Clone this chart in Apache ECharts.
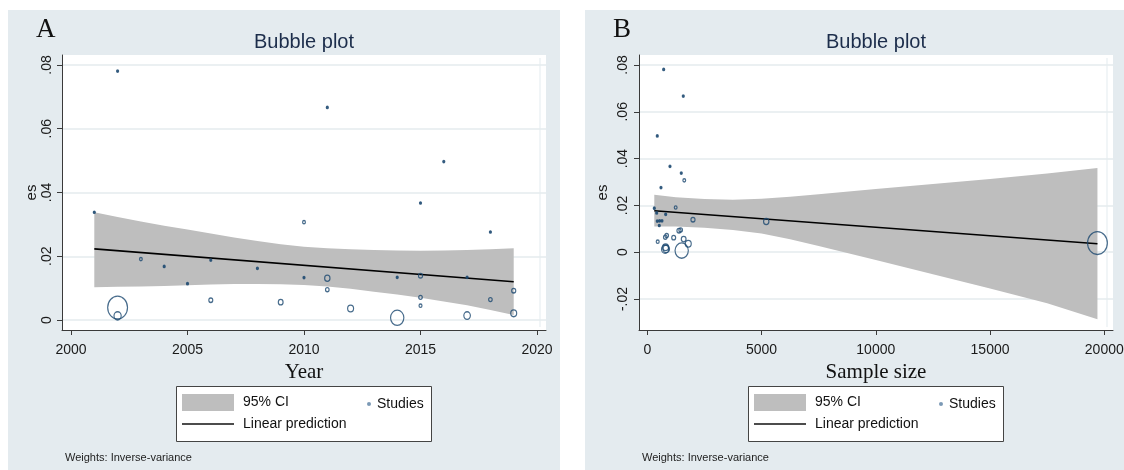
<!DOCTYPE html>
<html>
<head>
<meta charset="utf-8">
<script src="https://cdn.jsdelivr.net/npm/echarts@6/dist/echarts.min.js"></script>
<style>
  html, body { margin: 0; padding: 0; background: #ffffff; }
  #chart { width: 1124px; height: 470px; }
</style>
</head>
<body>
<div id="chart"></div>
<script>
// ---- Study-level data: publication year, sample size, effect size (es), inverse-variance weight ----
const studyYear = [2001, 2002, 2002, 2002, 2003, 2004, 2005, 2006, 2006, 2008,
                   2009, 2010, 2010, 2011, 2011, 2011, 2012, 2014, 2014, 2015,
                   2015, 2015, 2015, 2016, 2017, 2017, 2018, 2018, 2019, 2019];
const studyN    = [1487, 717, 19700, 780, 1242, 411, 525, 306, 1155, 805,
                   1592, 1618, 437, 1575, 5205, 1461, 1793, 539, 1505, 993,
                   1999, 849, 455, 437, 643, 830, 599, 787, 1387, 800];
const studyES   = [0.0338, 0.0781, 0.0039, 0.0013, 0.0191, 0.0168, 0.0114, 0.0188, 0.0062, 0.0162,
                   0.0056, 0.0307, 0.0133, 0.0667, 0.0131, 0.0095, 0.0036, 0.0134, 0.0007, 0.0367,
                   0.0139, 0.0071, 0.0045, 0.0497, 0.0134, 0.0014, 0.0276, 0.0064, 0.0092, 0.0021];
const studyWeight = [2.9, 2.2, 127, 20, 4.4, 2.2, 2.2, 2.4, 7.3, 2.4,
                     10, 4.4, 2.2, 2.2, 12, 6.3, 14.4, 2.2, 60, 2.2,
                     7.8, 6.3, 4.8, 2.2, 2.2, 17, 2.2, 6.3, 7.8, 14.4];

// ---- Meta-regression on year: linear prediction and 95% CI ----
const yearFitX   = [2001, 2019];
const yearFitY   = [0.0223, 0.0120];
const yearBandX  = [2001, 2002, 2003, 2004, 2005, 2006, 2007, 2008, 2009, 2010,
                    2011, 2012, 2013, 2014, 2015, 2016, 2017, 2018, 2019];
const yearBandHi = [0.0338, 0.0323, 0.0309, 0.0296, 0.0284, 0.0271, 0.0259, 0.0248, 0.0238, 0.0230,
                    0.0225, 0.0222, 0.0220, 0.0218, 0.0217, 0.0218, 0.0220, 0.0222, 0.0225];
const yearBandLo = [0.0103, 0.0104, 0.0105, 0.0107, 0.0109, 0.0111, 0.0113, 0.0113, 0.0112, 0.0110,
                    0.0105, 0.0098, 0.0089, 0.0080, 0.0070, 0.0058, 0.0046, 0.0031, 0.0016];

// ---- Meta-regression on sample size: linear prediction and 95% CI ----
const sizeFitX   = [306, 19700];
const sizeFitY   = [0.0177, 0.0036];
const sizeBandX  = [306, 1250, 2500, 3750, 5000, 6250, 7500, 10000, 12500, 15000, 17500, 19700];
const sizeBandHi = [0.0246, 0.0235, 0.0227, 0.0224, 0.0228, 0.0237, 0.0248, 0.0270, 0.0291, 0.0313, 0.0336, 0.0360];
const sizeBandLo = [0.0110, 0.0110, 0.0105, 0.0095, 0.0080, 0.0055, 0.0026, -0.0033, -0.0094, -0.0155, -0.0218, -0.0287];

// ---- Tick labels ----
const yearTicks = [2000, 2005, 2010, 2015, 2020];
const sizeTicks = [0, 5000, 10000, 15000, 20000];
const esTicksA  = [0, 0.02, 0.04, 0.06, 0.08];
const esTicksB  = [-0.02, 0, 0.02, 0.04, 0.06, 0.08];

// ---- Styling ----
const SANS = "'Liberation Sans', Arial, sans-serif";
const SERIF = "'Liberation Serif', 'Times New Roman', serif";
const PANEL_BG = '#e4ebef';
const NAVY = '#1a476f';
const BAND = '#bebebe';
const AXIS = '#3a3a3a';
const GRIDLINE = '#e4ebee';
const CIRCLE_PATH = 'path://M50,0A50,50,0,1,1,50,100A50,50,0,1,1,50,0Z';

// panel frames and plot regions (pixels)
const panels = [
  { bg: [8, 10, 552, 460], plot: { left: 62, top: 55, width: 484, height: 275 }, letter: 'A', xName: 'Year',
    xMin: 1999.614, xMax: 2020.386, yMin: -0.003137, yMax: 0.083137,
    xTicks: yearTicks, yTicks: esTicksA, esGap: 21, labelMargin: 8 },
  { bg: [585, 10, 539, 460], plot: { left: 639, top: 55, width: 474, height: 275 }, letter: 'B', xName: 'Sample size',
    xMin: -363, xMax: 20381, yMin: -0.033248, yMax: 0.084274,
    xTicks: sizeTicks, yTicks: esTicksB, esGap: 29, labelMargin: 9 }
];

function esLabel(v) {
  if (Math.abs(v) < 1e-12) return '0';
  const s = String(Math.round(Math.abs(v) * 100) / 100).replace(/^0/, '');
  return (v < 0 ? '-' : '') + s;
}

function bubbleSize(w) {
  // marker outline diameter grows with the square root of the weight
  const d = Math.max(2.2, 2 * Math.sqrt(w) - 1.2);
  return [d * 0.93, d * 1.07];
}

function bubbleFill(params) {
  // the lightest-weight studies render as solid dots
  return params.value[2] < 3 ? NAVY : 'rgba(0,0,0,0)';
}

function bandSeries(name, idx, xs, hi, lo) {
  return {
    type: 'custom', name: name, xAxisIndex: idx, yAxisIndex: idx, silent: true, z: 1,
    data: [0],
    renderItem: function (params, api) {
      const pts = [];
      for (let i = 0; i < xs.length; i++) pts.push(api.coord([xs[i], hi[i]]));
      for (let i = xs.length - 1; i >= 0; i--) pts.push(api.coord([xs[i], lo[i]]));
      return { type: 'polygon', shape: { points: pts }, style: { fill: BAND } };
    }
  };
}

const grids = [], xAxes = [], yAxes = [], series = [], legends = [], graphics = [];

panels.forEach(function (p, i) {
  grids.push({ left: p.plot.left, top: p.plot.top, width: p.plot.width, height: p.plot.height,
               containLabel: false, outerBoundsMode: 'none' });

  xAxes.push({
    type: 'value', gridIndex: i, min: p.xMin, max: p.xMax,
    name: p.xName, nameLocation: 'middle', nameGap: 31,
    nameTextStyle: { fontFamily: SERIF, fontSize: 21, color: '#111' },
    axisLine: { onZero: false, lineStyle: { color: AXIS, width: 1 } },
    axisTick: { show: true, length: 5, customValues: p.xTicks, lineStyle: { color: AXIS } },
    axisLabel: { customValues: p.xTicks, margin: 13, fontFamily: SANS, fontSize: 14, color: '#1a1a1a',
                 formatter: function (v) { return String(v); } },
    splitLine: { show: false }
  });

  yAxes.push({
    type: 'value', gridIndex: i, min: p.yMin, max: p.yMax,
    name: 'es', nameLocation: 'middle', nameGap: p.esGap, nameRotate: 90,
    nameTextStyle: { fontFamily: SANS, fontSize: 15, color: '#1a1a1a' },
    axisLine: { show: true, onZero: false, lineStyle: { color: AXIS, width: 1 } },
    axisTick: { show: true, length: 5, customValues: p.yTicks, lineStyle: { color: AXIS } },
    axisLabel: { customValues: p.yTicks, rotate: 90, margin: p.labelMargin, fontFamily: SANS, fontSize: 14,
                 color: '#1a1a1a', formatter: esLabel },
    splitLine: { show: true, lineStyle: { color: GRIDLINE, width: 1.6 } }
  });

  // panel background, plot region, panel letter, title, footnote, legend frame
  graphics.push({ type: 'rect', z: -10, silent: true,
                  shape: { x: p.bg[0], y: p.bg[1], width: p.bg[2], height: p.bg[3] }, style: { fill: PANEL_BG } });
  graphics.push({ type: 'rect', z: -9, silent: true,
                  shape: { x: p.plot.left, y: p.plot.top, width: p.plot.width, height: p.plot.height },
                  style: { fill: '#ffffff' } });
  graphics.push({ type: 'line', z: -8, silent: true,
                  shape: { x1: p.plot.left + p.plot.width - 6, y1: p.plot.top + 3,
                           x2: p.plot.left + p.plot.width - 6, y2: p.plot.top + p.plot.height - 3 },
                  style: { stroke: '#edf2f4', lineWidth: 1.5 } });
  const cx = p.plot.left + p.plot.width / 2;
  graphics.push({ type: 'text', z: 5, silent: true, x: p.bg[0] + 28, y: 30,
                  style: { text: p.letter, font: '27px ' + SERIF, fill: '#111', textAlign: 'left', textVerticalAlign: 'middle' } });
  graphics.push({ type: 'text', z: 5, silent: true, x: cx, y: 42,
                  style: { text: 'Bubble plot', font: '20px ' + SANS, fill: '#1c2d4b', textAlign: 'center', textVerticalAlign: 'middle' } });
  graphics.push({ type: 'text', z: 5, silent: true, x: p.bg[0] + 57, y: 458,
                  style: { text: 'Weights: Inverse-variance', font: '11px ' + SANS, fill: '#222', textAlign: 'left', textVerticalAlign: 'middle' } });
  graphics.push({ type: 'rect', z: 2, silent: true,
                  shape: { x: cx - 127.5, y: 386.5, width: 255, height: 55 },
                  style: { fill: '#ffffff', stroke: '#444', lineWidth: 1 } });

  // legend rows
  legends.push({ left: cx - 122, top: 394, padding: 0, itemWidth: 52, itemHeight: 17, selectedMode: false,
                 data: [{ name: '95% CI', icon: 'rect', itemStyle: { color: BAND } }],
                 textStyle: { fontFamily: SANS, fontSize: 14, color: '#111', padding: [3, 0, 0, 4] } });
  legends.push({ left: cx + 63, top: 397, padding: 0, itemWidth: 4, itemHeight: 4, selectedMode: false,
                 data: [{ name: 'Studies', icon: 'circle', itemStyle: { color: '#5a7fa3', borderWidth: 0 } }],
                 textStyle: { fontFamily: SANS, fontSize: 14, color: '#111', padding: [2, 0, 0, 1] } });
  legends.push({ left: cx - 122, top: 417, padding: 0, itemWidth: 52, itemHeight: 17, selectedMode: false,
                 data: [{ name: 'Linear prediction', icon: 'path://M0,0L52,0L52,1.5L0,1.5Z', itemStyle: { color: '#111' } }],
                 textStyle: { fontFamily: SANS, fontSize: 14, color: '#111', padding: [0, 0, 0, 4] } });
});

// panel A: es against year
series.push(bandSeries('95% CI', 0, yearBandX, yearBandHi, yearBandLo));
series.push({ type: 'line', name: 'Linear prediction', xAxisIndex: 0, yAxisIndex: 0, symbol: 'none', z: 3,
              lineStyle: { color: '#000', width: 1.6 }, data: yearFitX.map(function (x, k) { return [x, yearFitY[k]]; }) });
series.push({ type: 'scatter', name: 'Studies', xAxisIndex: 0, yAxisIndex: 0, z: 4, symbol: CIRCLE_PATH,
              symbolKeepAspect: false,
              symbolSize: function (v) { return bubbleSize(v[2]); },
              itemStyle: { color: bubbleFill, borderColor: NAVY, borderWidth: 1.25 },
              data: studyYear.map(function (x, k) { return [x, studyES[k], studyWeight[k]]; }) });

// panel B: es against sample size
series.push(bandSeries('95% CI', 1, sizeBandX, sizeBandHi, sizeBandLo));
series.push({ type: 'line', name: 'Linear prediction', xAxisIndex: 1, yAxisIndex: 1, symbol: 'none', z: 3,
              lineStyle: { color: '#000', width: 1.6 }, data: sizeFitX.map(function (x, k) { return [x, sizeFitY[k]]; }) });
series.push({ type: 'scatter', name: 'Studies', xAxisIndex: 1, yAxisIndex: 1, z: 4, symbol: CIRCLE_PATH,
              symbolKeepAspect: false,
              symbolSize: function (v) { return bubbleSize(v[2]); },
              itemStyle: { color: bubbleFill, borderColor: NAVY, borderWidth: 1.25 },
              data: studyN.map(function (x, k) { return [x, studyES[k], studyWeight[k]]; }) });

const chart = echarts.init(document.getElementById('chart'), null, { renderer: 'canvas' });
chart.setOption({
  animation: false,
  backgroundColor: '#ffffff',
  grid: grids,
  xAxis: xAxes,
  yAxis: yAxes,
  legend: legends,
  graphic: { elements: graphics },
  series: series
});
</script>
</body>
</html>
